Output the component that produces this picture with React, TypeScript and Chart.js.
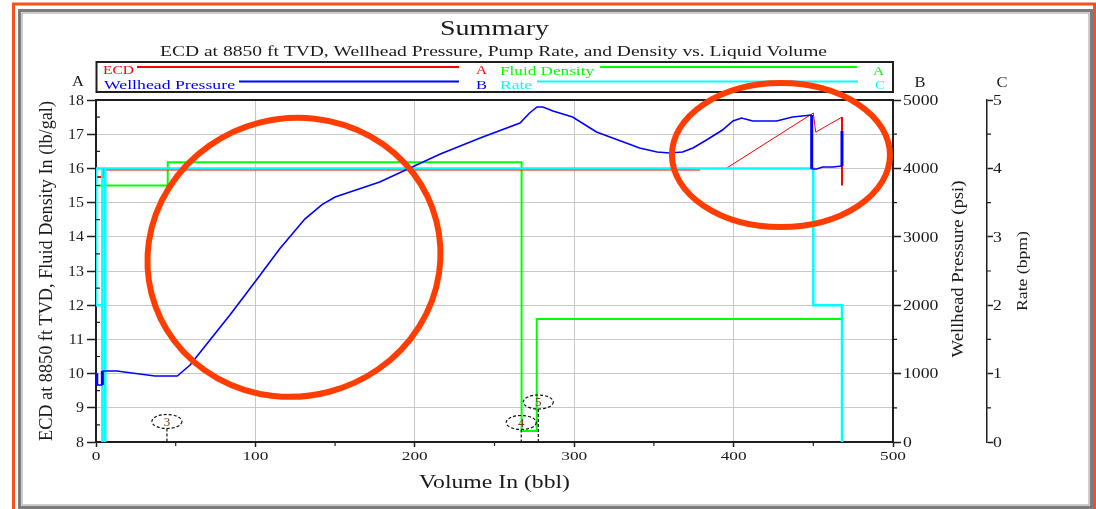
import React, { useEffect, useRef } from "react";
import { Chart, registerables } from "chart.js";

Chart.register(...registerables);

// ---------- tick labels ----------
const volumeTicks = [0, 100, 200, 300, 400, 500];
const densityTicks = [8, 9, 10, 11, 12, 13, 14, 15, 16, 17, 18];
const pressureTicks = [0, 1000, 2000, 3000, 4000, 5000];
const rateTicks = [0, 1, 2, 3, 4, 5];

// ---------- series ----------
const ecdVolume = [0, 5, 5, 379, 387, 395, 450, 451.5, 468, 468];
const ecdValue: (number | null)[] = [15.75, 15.75, 15.97, 15.97, null, 15.99, 17.62, 17.06, 17.5, 15.5];

const densityVolume = [0, 45, 45, 267, 267, 276.5, 276.5, 467.5];
const densityValue = [15.5, 15.5, 16.18, 16.18, 8.32, 8.32, 11.6, 11.6];

const pressureVolume = [
  0, 0.5, 0.5, 4, 4, 13, 37, 51, 59, 71.5, 84, 99.7, 115.4, 131, 141.8, 150, 178, 216, 241, 266,
  272, 276.7, 280.4, 286.7, 299, 314, 341, 352, 360, 368, 374.5, 383, 393, 399.6, 405, 412, 427,
  437, 449, 449, 452, 456, 462, 468, 468,
];
const pressureValue = [
  1004, 1004, 833, 833, 1038, 1038, 965, 965, 1126, 1491, 1857, 2340, 2830, 3260, 3470, 3582, 3801,
  4211, 4444, 4664, 4810, 4898, 4898, 4839, 4752, 4532, 4298, 4240, 4225, 4240, 4298, 4415, 4561,
  4693, 4737, 4693, 4693, 4752, 4781, 3991, 3991, 4020, 4020, 4035, 4547,
];

const rateVolume = [4, 0, 0, 4, 4, 5.8, 5.8, 450, 450, 468, 468];
const rateValue = [2, 2, 4, 4, 0, 0, 4, 4, 2, 2, 0];

// numbered event callouts (volume, density-axis level)
const calloutLabels = ["3", "4", "5"];
const calloutVolume = [44.5, 266.8, 277.5];
const calloutLevel = [8.6, 8.57, 9.17];

// hand-drawn highlight ellipses (centre in data units)
const highlightVolume = [124.2, 429.7];
const highlightLevel = [13.4, 16.39];

const FONT = '"Liberation Serif", "Times New Roman", serif';

type TxtOpts = {
  color?: string;
  align?: CanvasTextAlign;
  baseline?: CanvasTextBaseline;
  width?: number;
  sx?: number;
  rot?: number;
};

function txt(ctx: CanvasRenderingContext2D, s: string, x: number, y: number, size: number, o: TxtOpts = {}) {
  ctx.save();
  ctx.font = `${size}px ${FONT}`;
  const w = ctx.measureText(s).width;
  const k = o.width ? o.width / w : o.sx ?? 1;
  ctx.translate(x, y);
  if (o.rot) ctx.rotate(o.rot);
  ctx.scale(k, 1);
  ctx.textAlign = o.align ?? "center";
  ctx.textBaseline = o.baseline ?? "alphabetic";
  ctx.fillStyle = o.color ?? "#1a1a1a";
  ctx.fillText(s, 0, 0);
  ctx.restore();
}

function pts(xs: number[], ys: (number | null)[]) {
  return xs.map((x, i) => ({ x, y: ys[i] }));
}

const RED = "#ff0000";
const BLUE = "#0000ff";
const GREEN = "#00ff00";
const CYAN = "#00ffff";
const INK = "#1e1e1e";

const decor = {
  id: "decor",
  beforeDraw(chart: any) {
    const ctx: CanvasRenderingContext2D = chart.ctx;
    ctx.save();
    ctx.fillStyle = "#ffffff";
    ctx.fillRect(0, 0, chart.width, chart.height);
    // outer orange frame
    ctx.strokeStyle = "#f4511e";
    ctx.lineWidth = 3;
    ctx.strokeRect(13.5, 4, 1081, 540);
    // inner grey bevel frame
    ctx.strokeStyle = "#7c7c7c";
    ctx.lineWidth = 3;
    ctx.strokeRect(19.5, 10.5, 1072, 497);
    ctx.strokeStyle = "#bdbdbd";
    ctx.lineWidth = 1.5;
    ctx.strokeRect(22, 13, 1067, 492);
    ctx.restore();
  },
  afterDraw(chart: any) {
    const ctx: CanvasRenderingContext2D = chart.ctx;
    const ca = chart.chartArea;
    const sx = chart.scales.x;
    const sa = chart.scales.y;
    const sb = chart.scales.yB;
    const sc = chart.scales.yC;

    // top frame line
    ctx.save();
    ctx.strokeStyle = INK;
    ctx.lineWidth = 2;
    ctx.beginPath();
    ctx.moveTo(ca.left - 1, ca.top);
    ctx.lineTo(ca.right + 1, ca.top);
    ctx.stroke();

    // minor ticks
    ctx.lineWidth = 1.2;
    ctx.beginPath();
    for (let i = 0; i < volumeTicks.length - 1; i++) {
      const px = sx.getPixelForValue((volumeTicks[i] + volumeTicks[i + 1]) / 2);
      ctx.moveTo(px, ca.bottom);
      ctx.lineTo(px, ca.bottom + 4);
    }
    for (let i = 0; i < densityTicks.length - 1; i++) {
      const py = sa.getPixelForValue((densityTicks[i] + densityTicks[i + 1]) / 2);
      ctx.moveTo(ca.left - 1, py);
      ctx.lineTo(ca.left + 4, py);
    }
    for (let i = 0; i < pressureTicks.length - 1; i++) {
      const py = sb.getPixelForValue((pressureTicks[i] + pressureTicks[i + 1]) / 2);
      ctx.moveTo(sb.left, py);
      ctx.lineTo(sb.left + 4, py);
    }
    for (let i = 0; i < rateTicks.length - 1; i++) {
      const py = sc.getPixelForValue((rateTicks[i] + rateTicks[i + 1]) / 2);
      ctx.moveTo(sc.left, py);
      ctx.lineTo(sc.left + 4, py);
    }
    ctx.stroke();
    ctx.restore();

    // tick labels
    volumeTicks.forEach((v) => txt(ctx, String(v), sx.getPixelForValue(v), ca.bottom + 18, 13.5, { sx: 1.28 }));
    densityTicks.forEach((v) =>
      txt(ctx, String(v), ca.left - 12, sa.getPixelForValue(v) + 1, 14, { align: "right", baseline: "middle", sx: 1.14 })
    );
    pressureTicks.forEach((v) =>
      txt(ctx, String(v), sb.left + 10, sb.getPixelForValue(v) + 1, 14.5, { align: "left", baseline: "middle", sx: 1.22 })
    );
    rateTicks.forEach((v) =>
      txt(ctx, String(v), sc.left + 6, sc.getPixelForValue(v) + 1, 14.5, { align: "left", baseline: "middle", sx: 1.22 })
    );

    const cx = (ca.left + ca.right) / 2;
    // titles
    txt(ctx, "Summary", cx, 35, 22, { width: 109 });
    txt(ctx, "ECD at 8850 ft TVD, Wellhead Pressure, Pump Rate, and Density vs. Liquid Volume", cx - 1, 56, 14.5, {
      width: 667,
    });
    txt(ctx, "Volume In (bbl)", cx, 488, 19.5, { width: 151 });
    txt(ctx, "ECD at 8850 ft TVD, Fluid Density In (lb/gal)", 52, (ca.top + ca.bottom) / 2, 18, {
      rot: -Math.PI / 2,
      width: 340,
    });
    txt(ctx, "Wellhead Pressure (psi)", 963, (ca.top + ca.bottom) / 2 - 2, 17, { rot: -Math.PI / 2, width: 177 });
    txt(ctx, "Rate (bpm)", 1027, (ca.top + ca.bottom) / 2, 14.5, { rot: -Math.PI / 2, width: 80 });
    txt(ctx, "A", ca.left - 18, 86, 15, { sx: 1.1 });
    txt(ctx, "B", sb.left + 27, 87, 15, { sx: 1.1 });
    txt(ctx, "C", sc.left + 15, 87, 15, { sx: 1.1 });

    // legend box
    ctx.save();
    ctx.strokeStyle = INK;
    ctx.lineWidth = 2;
    ctx.strokeRect(ca.left + 0.5, 62, ca.right - ca.left - 0.5, 30);
    ctx.lineWidth = 2;
    const seg = (c: string, x1: number, x2: number, y: number) => {
      ctx.strokeStyle = c;
      ctx.beginPath();
      ctx.moveTo(x1, y);
      ctx.lineTo(x2, y);
      ctx.stroke();
    };
    seg(RED, 137, 459, 67);
    seg(BLUE, 239, 459, 81.5);
    seg(GREEN, 600, 857, 67);
    seg(CYAN, 537, 858, 81.5);
    ctx.restore();
    txt(ctx, "ECD", 103, 74, 12.5, { align: "left", width: 31, color: RED });
    txt(ctx, "A", 476, 74, 13, { align: "left", width: 11, color: RED });
    txt(ctx, "Wellhead Pressure", 104, 89, 13.5, { align: "left", width: 131, color: BLUE });
    txt(ctx, "B", 476, 89, 13, { align: "left", width: 11, color: BLUE });
    txt(ctx, "Fluid Density", 500, 75, 13, { align: "left", width: 94, color: GREEN });
    txt(ctx, "A", 873, 75, 13, { align: "left", width: 11, color: GREEN });
    txt(ctx, "Rate", 500, 89, 13, { align: "left", width: 32, color: CYAN });
    txt(ctx, "C", 875, 89, 13, { align: "left", width: 10, color: CYAN });

    // numbered callouts
    calloutLabels.forEach((lab, i) => {
      const px = sx.getPixelForValue(calloutVolume[i]);
      const py = sa.getPixelForValue(calloutLevel[i]);
      ctx.save();
      ctx.strokeStyle = "#111";
      ctx.lineWidth = 1.2;
      ctx.setLineDash([3, 2]);
      ctx.beginPath();
      ctx.ellipse(px, py, 15, 7, 0, 0, Math.PI * 2);
      ctx.stroke();
      ctx.beginPath();
      ctx.moveTo(px, py + 7);
      ctx.lineTo(px, ca.bottom);
      ctx.stroke();
      ctx.restore();
      txt(ctx, lab, px, py + 1, 13, { baseline: "middle", color: "#6e3f10" });
    });

    // hand-drawn highlight ellipses
    ctx.save();
    ctx.strokeStyle = "#ff3d00";
    ctx.lineWidth = 6;
    const rx = [147, 109];
    const ry = [139, 72];
    const tilt = [-0.25, 0];
    highlightVolume.forEach((v, i) => {
      ctx.beginPath();
      ctx.ellipse(sx.getPixelForValue(v), sa.getPixelForValue(highlightLevel[i]), rx[i], ry[i], tilt[i], 0, Math.PI * 2);
      ctx.stroke();
    });
    ctx.restore();
  },
};

const sloped = (c: any) => c.p0.parsed.x !== c.p1.parsed.x && c.p0.parsed.y !== c.p1.parsed.y;
const vertical = (c: any) => c.p0.parsed.x === c.p1.parsed.x;

export default function App() {
  const ref = useRef<HTMLCanvasElement>(null);
  useEffect(() => {
    document.body.style.margin = "0";
    const canvas = ref.current!;
    const tickSet = (vals: number[]) => (s: any) => {
      s.ticks = vals.map((v) => ({ value: v }));
    };
    const chart = new Chart(canvas, {
      type: "line",
      data: {
        datasets: [
          {
            label: "Wellhead Pressure",
            data: pts(pressureVolume, pressureValue),
            yAxisID: "yB",
            borderColor: BLUE,
            borderWidth: 1.6,
            pointRadius: 0,
            tension: 0,
            segment: { borderWidth: (c: any) => (vertical(c) ? 3 : 1.6) },
          },
          {
            label: "Rate",
            data: pts(rateVolume, rateValue),
            yAxisID: "yC",
            borderColor: CYAN,
            borderWidth: 2.5,
            pointRadius: 0,
          },
          {
            label: "ECD",
            data: pts(ecdVolume, ecdValue),
            yAxisID: "y",
            borderColor: RED,
            borderWidth: 2,
            pointRadius: 0,
            spanGaps: false,
            segment: { borderWidth: (c: any) => (sloped(c) ? 1 : 2) },
          },
          {
            label: "Fluid Density",
            data: pts(densityVolume, densityValue),
            yAxisID: "y",
            borderColor: GREEN,
            borderWidth: 2,
            pointRadius: 0,
          },
        ],
      } as any,
      options: {
        responsive: false,
        devicePixelRatio: 1,
        animation: false,
        events: [],
        layout: { padding: { top: 100, left: 0, right: 0, bottom: 0 } },
        plugins: { legend: { display: false }, tooltip: { enabled: false }, title: { display: false } },
        scales: {
          x: {
            type: "linear",
            min: 0,
            max: 500,
            afterBuildTicks: tickSet(volumeTicks),
            afterFit: (s: any) => {
              s.height = 67;
            },
            ticks: { display: false },
            grid: { color: "#c8c8c8", lineWidth: 1, tickLength: 5, tickColor: INK, tickWidth: 1.5 },
            border: { color: INK, width: 2 },
          },
          y: {
            type: "linear",
            position: "left",
            min: 8,
            max: 18,
            afterBuildTicks: tickSet(densityTicks),
            afterFit: (s: any) => {
              s.width = 96;
            },
            ticks: { display: false },
            grid: { color: "#c8c8c8", lineWidth: 1, tickLength: 9, tickColor: INK, tickWidth: 1.5 },
            border: { color: INK, width: 2 },
          },
          yB: {
            type: "linear",
            position: "right",
            min: 0,
            max: 5000,
            afterBuildTicks: tickSet(pressureTicks),
            afterFit: (s: any) => {
              s.width = 94;
            },
            ticks: { display: false },
            grid: { drawOnChartArea: false, tickLength: 8, tickColor: INK, tickWidth: 1.5 },
            border: { color: INK, width: 2 },
          },
          yC: {
            type: "linear",
            position: "right",
            min: 0,
            max: 5,
            afterBuildTicks: tickSet(rateTicks),
            afterFit: (s: any) => {
              s.width = 109;
            },
            ticks: { display: false },
            grid: { drawOnChartArea: false, tickLength: 6, tickColor: INK, tickWidth: 1.5 },
            border: { color: INK, width: 1.5 },
          },
        },
      } as any,
      plugins: [decor],
    });
    return () => chart.destroy();
  }, []);
  return (
    <div style={{ width: 1096, height: 509, overflow: "hidden", background: "#fff" }}>
      <canvas ref={ref} width={1096} height={509} style={{ display: "block", width: 1096, height: 509 }} />
    </div>
  );
}
